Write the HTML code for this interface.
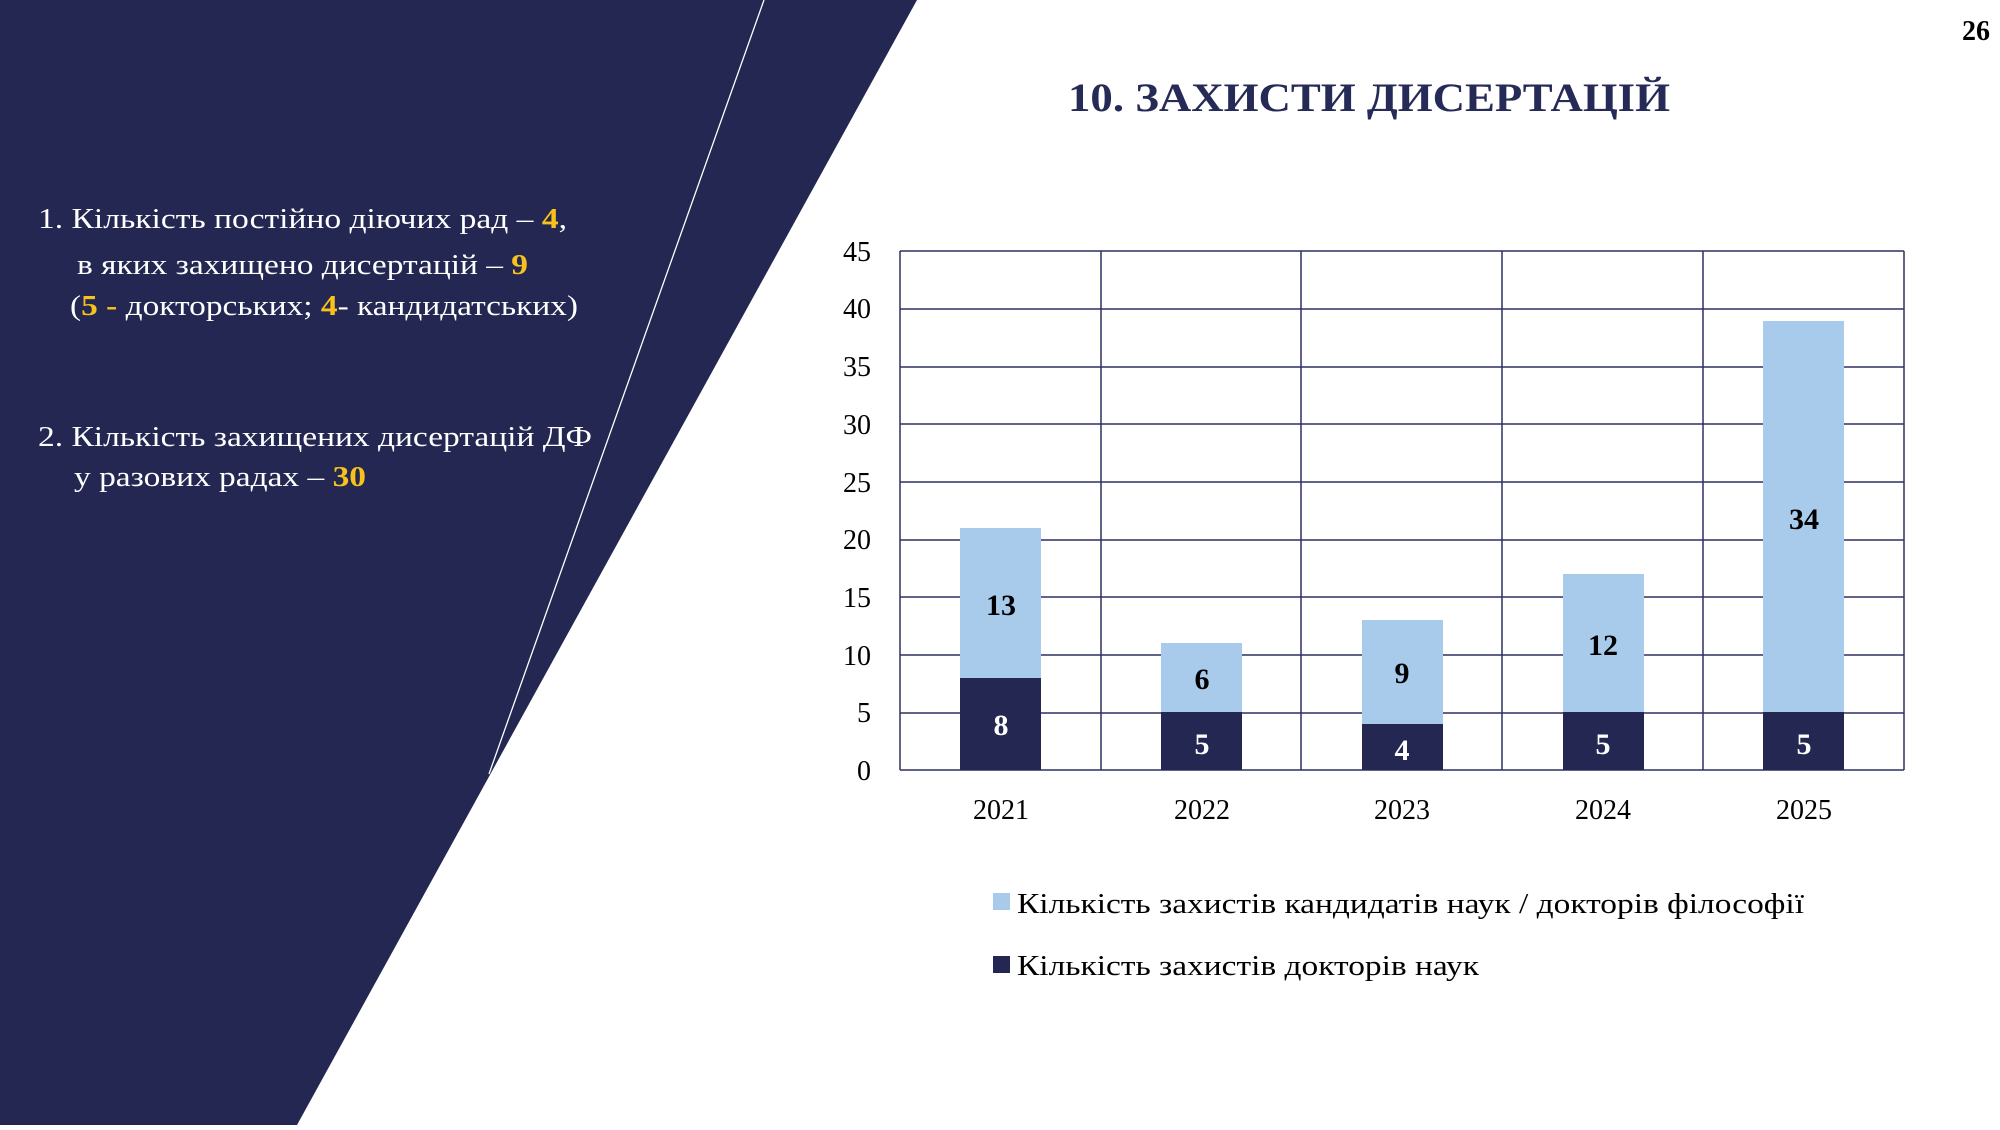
<!DOCTYPE html>
<html><head><meta charset="utf-8"><style>
body{margin:0;width:2000px;height:1125px;overflow:hidden;background:#fff;}
svg text{font-family:"Liberation Serif","DejaVu Serif",serif;}
</style></head><body>
<svg width="2000" height="1125" xmlns="http://www.w3.org/2000/svg">
<polygon points="0,0 917,0 297,1125 0,1125" fill="#232751"/>
<line x1="764" y1="0" x2="489" y2="774" stroke="#ffffff" stroke-width="1.3"/>
<g font-size="29" fill="#fff">
<text x="38" y="228" textLength="529" lengthAdjust="spacingAndGlyphs">1. Кількість постійно діючих рад – <tspan fill="#f7c21b" font-weight="bold">4</tspan>,</text>
<text x="77" y="274" textLength="451" lengthAdjust="spacingAndGlyphs">в яких захищено дисертацій – <tspan fill="#f7c21b" font-weight="bold">9</tspan></text>
<text x="70" y="315" textLength="508" lengthAdjust="spacingAndGlyphs">(<tspan fill="#f7c21b" font-weight="bold">5 -</tspan> докторських; <tspan fill="#f7c21b" font-weight="bold">4</tspan>- кандидатських)</text>
<text x="38" y="446" textLength="554" lengthAdjust="spacingAndGlyphs">2. Кількість захищених дисертацій ДФ</text>
<text x="74" y="486" textLength="292" lengthAdjust="spacingAndGlyphs">у разових радах – <tspan fill="#f7c21b" font-weight="bold">30</tspan></text>
</g>
<text x="1068" y="111" font-size="40" font-weight="bold" fill="#262a56" textLength="602" lengthAdjust="spacingAndGlyphs">10. ЗАХИСТИ ДИСЕРТАЦІЙ</text>
<text x="1990" y="40" text-anchor="end" font-size="28" font-weight="bold" fill="#000">26</text>
<g transform="translate(-3,-2)">
<g stroke="#2d3160" stroke-width="1.5">
<line x1="903" y1="253" x2="1907" y2="253"/>
<line x1="903" y1="311" x2="1907" y2="311"/>
<line x1="903" y1="369" x2="1907" y2="369"/>
<line x1="903" y1="426" x2="1907" y2="426"/>
<line x1="903" y1="484" x2="1907" y2="484"/>
<line x1="903" y1="542" x2="1907" y2="542"/>
<line x1="903" y1="599" x2="1907" y2="599"/>
<line x1="903" y1="657" x2="1907" y2="657"/>
<line x1="903" y1="715" x2="1907" y2="715"/>
<line x1="903" y1="772" x2="1907" y2="772"/>
<line x1="903" y1="253" x2="903" y2="772"/>
<line x1="1104" y1="253" x2="1104" y2="772"/>
<line x1="1304" y1="253" x2="1304" y2="772"/>
<line x1="1505" y1="253" x2="1505" y2="772"/>
<line x1="1706" y1="253" x2="1706" y2="772"/>
<line x1="1907" y1="253" x2="1907" y2="772"/>
</g>
<g font-size="28" fill="#000" text-anchor="end">
<text x="874" y="782">0</text><text x="874" y="724">5</text><text x="874" y="667">10</text><text x="874" y="609">15</text><text x="874" y="551">20</text><text x="874" y="494">25</text><text x="874" y="436">30</text><text x="874" y="378">35</text><text x="874" y="320">40</text><text x="874" y="263">45</text>
</g>
<g>
<rect x="963" y="530" width="81" height="150" fill="#a9cbeb"/><rect x="963" y="680" width="81" height="92" fill="#232751"/>
<rect x="1164" y="645" width="81" height="69" fill="#a9cbeb"/><rect x="1164" y="714" width="81" height="58" fill="#232751"/>
<rect x="1365" y="622" width="81" height="104" fill="#a9cbeb"/><rect x="1365" y="726" width="81" height="46" fill="#232751"/>
<rect x="1566" y="576" width="81" height="138" fill="#a9cbeb"/><rect x="1566" y="714" width="81" height="58" fill="#232751"/>
<rect x="1766" y="323" width="81" height="391" fill="#a9cbeb"/><rect x="1766" y="714" width="81" height="58" fill="#232751"/>
</g>
<g font-size="30" font-weight="bold" text-anchor="middle">
<text x="1004" y="617" fill="#000">13</text><text x="1004" y="737" fill="#fff">8</text>
<text x="1205" y="691" fill="#000">6</text><text x="1205" y="756" fill="#fff">5</text>
<text x="1405" y="685" fill="#000">9</text><text x="1405" y="762" fill="#fff">4</text>
<text x="1606" y="657" fill="#000">12</text><text x="1606" y="756" fill="#fff">5</text>
<text x="1807" y="531" fill="#000">34</text><text x="1807" y="756" fill="#fff">5</text>
</g>
<g font-size="28" fill="#000" text-anchor="middle">
<text x="1004" y="821">2021</text><text x="1205" y="821">2022</text><text x="1405" y="821">2023</text><text x="1606" y="821">2024</text><text x="1807" y="821">2025</text>
</g>
<rect x="996" y="895" width="17" height="17" fill="#a9cbeb"/>
<rect x="996" y="958" width="17" height="17" fill="#232751"/>
<g font-size="29" fill="#000">
<text x="1020" y="915" textLength="787" lengthAdjust="spacingAndGlyphs">Кількість захистів кандидатів наук / докторів філософії</text>
<text x="1020" y="977" textLength="462" lengthAdjust="spacingAndGlyphs">Кількість захистів докторів наук</text>
</g>
</g>
</svg>
</body></html>
